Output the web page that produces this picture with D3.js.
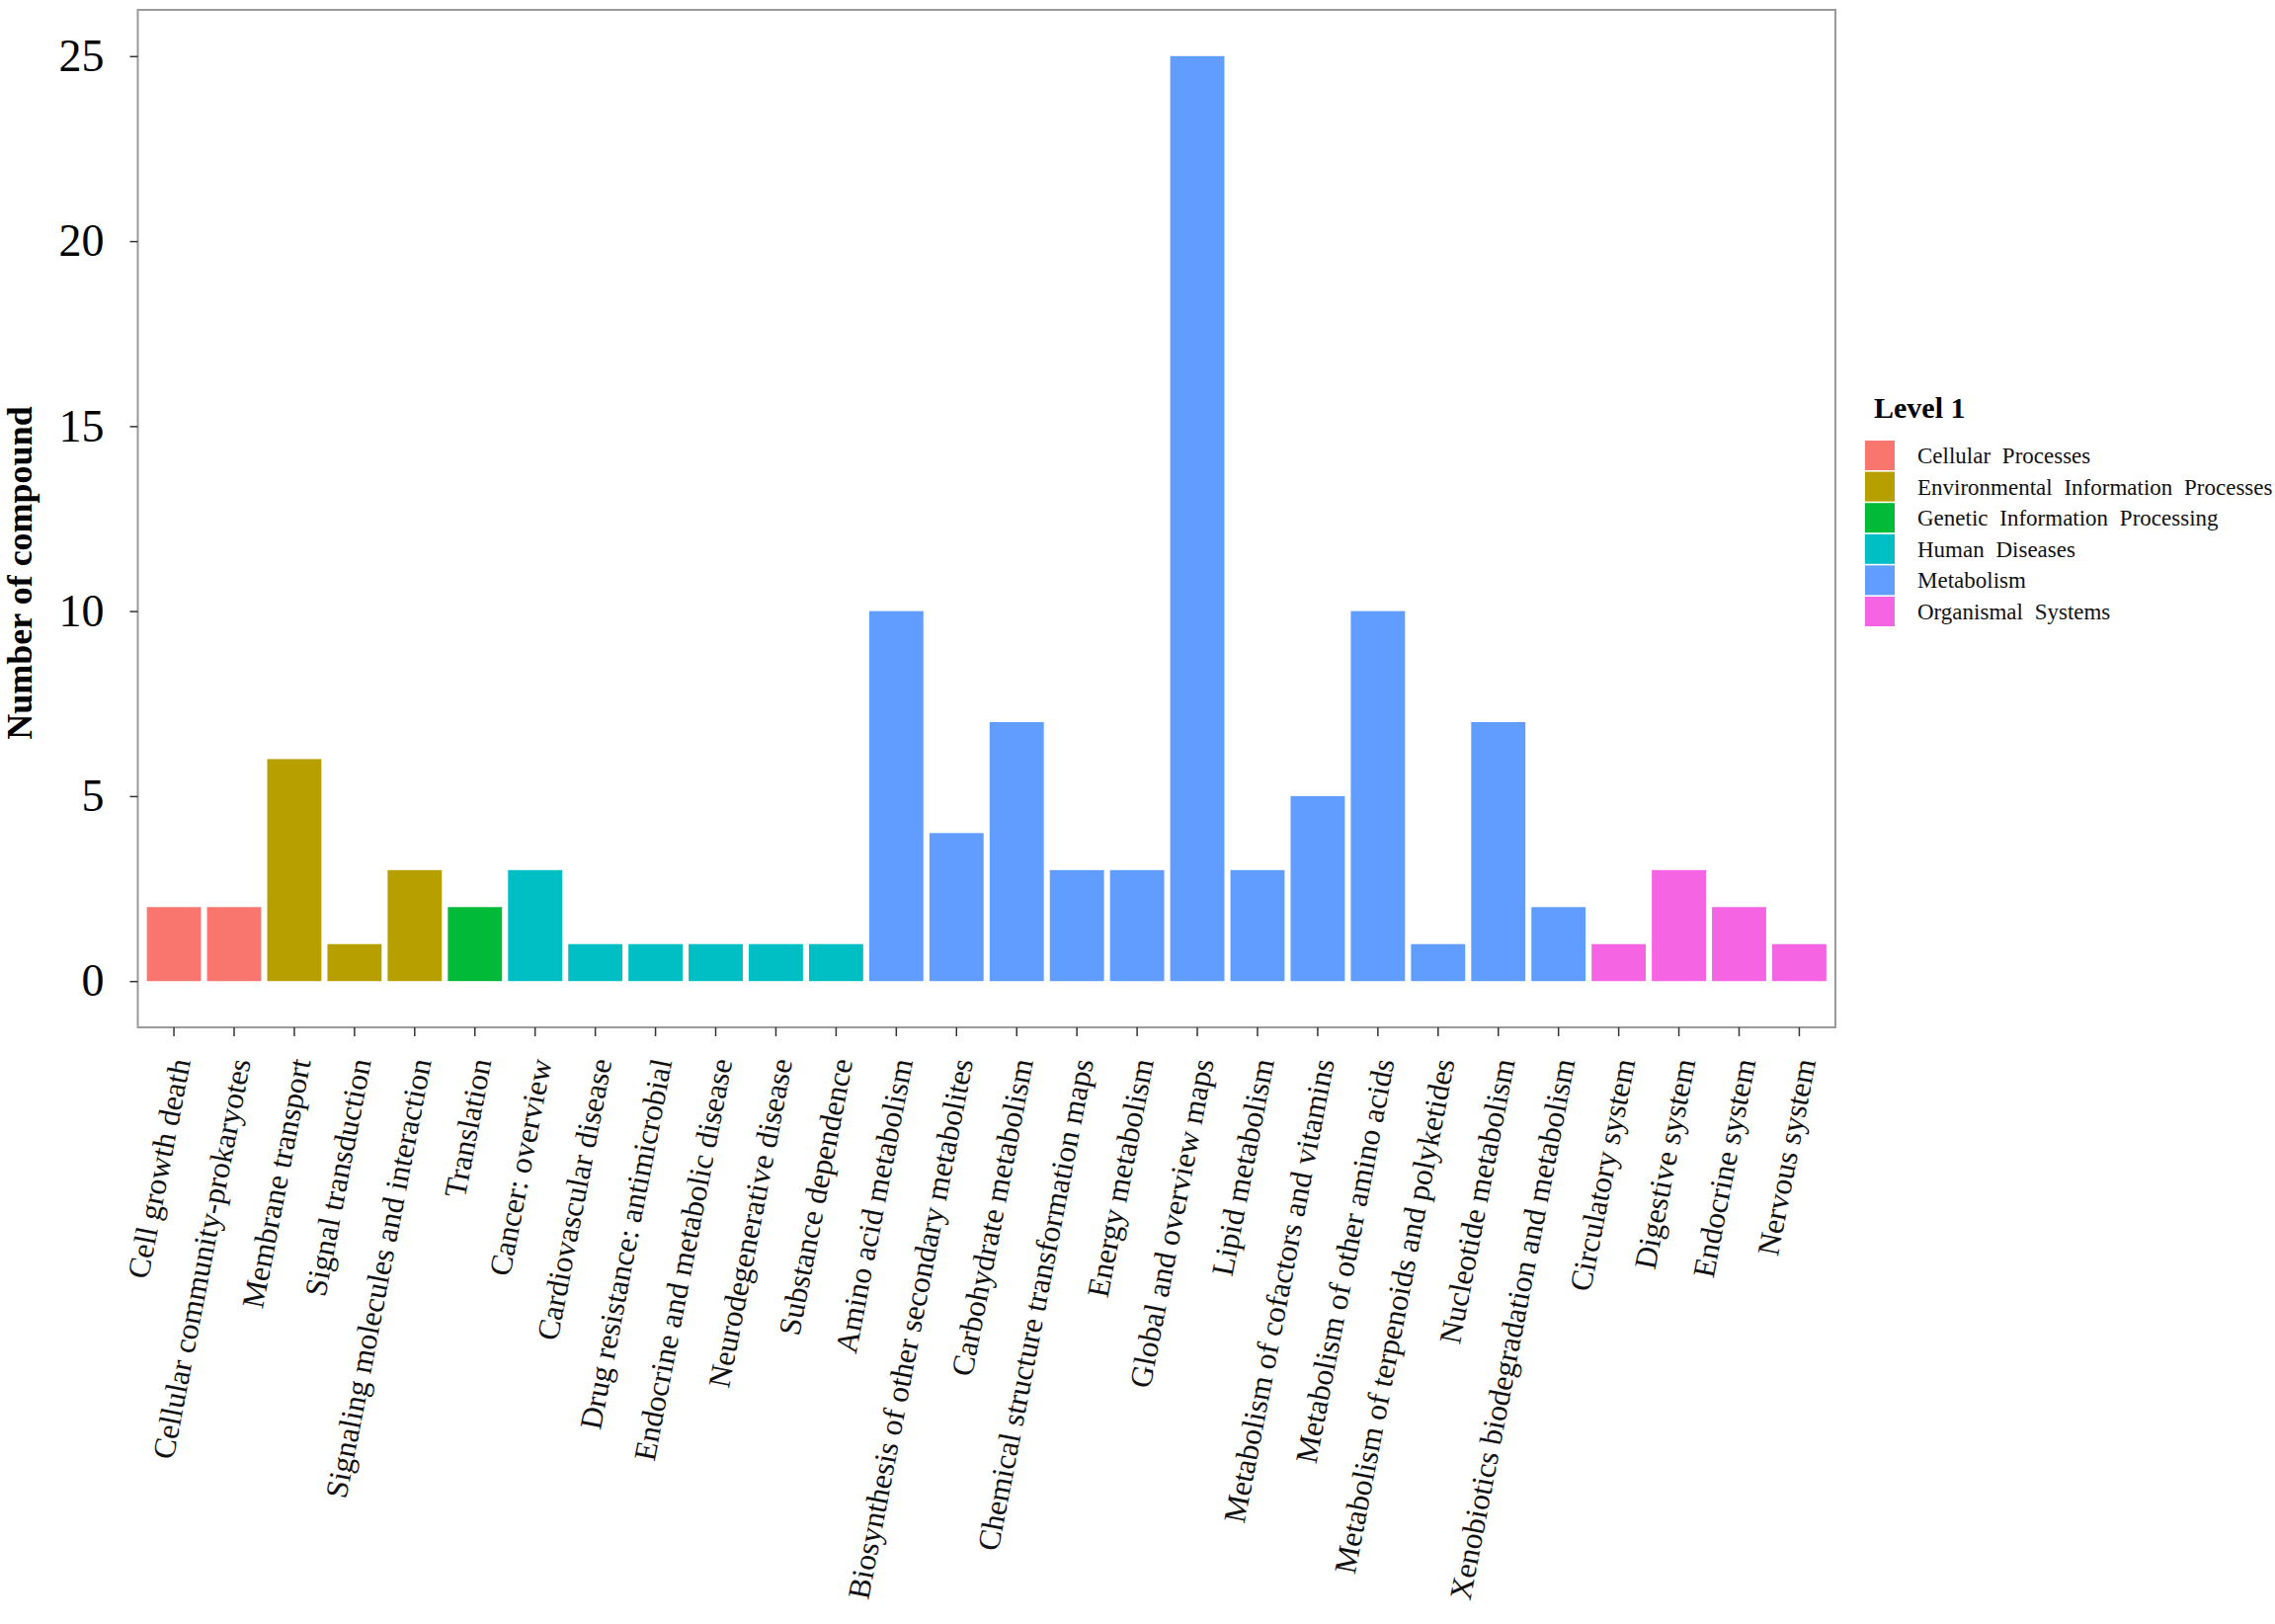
<!DOCTYPE html>
<html>
<head>
<meta charset="utf-8">
<script src="https://cdn.jsdelivr.net/npm/d3@7"></script>
<style>
  body { margin: 0; background: #fff; }
  text { font-family: "Liberation Serif", "Times New Roman", serif; }
</style>
</head>
<body>
<script>
var categories = [
  "Cell growth death", "Cellular community-prokaryotes",
  "Membrane transport", "Signal transduction", "Signaling molecules and interaction",
  "Translation",
  "Cancer: overview", "Cardiovascular disease", "Drug resistance: antimicrobial",
  "Endocrine and metabolic disease", "Neurodegenerative disease", "Substance dependence",
  "Amino acid metabolism", "Biosynthesis of other secondary metabolites",
  "Carbohydrate metabolism", "Chemical structure transformation maps",
  "Energy metabolism", "Global and overview maps", "Lipid metabolism",
  "Metabolism of cofactors and vitamins", "Metabolism of other amino acids",
  "Metabolism of terpenoids and polyketides", "Nucleotide metabolism",
  "Xenobiotics biodegradation and metabolism",
  "Circulatory system", "Digestive system", "Endocrine system", "Nervous system"
];
var counts = [2, 2, 6, 1, 3, 2, 3, 1, 1, 1, 1, 1, 10, 4, 7, 3, 3, 25, 3, 5, 10, 1, 7, 2, 1, 3, 2, 1];
var levels = [
  "Cellular Processes", "Cellular Processes",
  "Environmental Information Processes", "Environmental Information Processes", "Environmental Information Processes",
  "Genetic Information Processing",
  "Human Diseases", "Human Diseases", "Human Diseases", "Human Diseases", "Human Diseases", "Human Diseases",
  "Metabolism", "Metabolism", "Metabolism", "Metabolism", "Metabolism", "Metabolism",
  "Metabolism", "Metabolism", "Metabolism", "Metabolism", "Metabolism", "Metabolism",
  "Organismal Systems", "Organismal Systems", "Organismal Systems", "Organismal Systems"
];
var levelNames = ["Cellular Processes", "Environmental Information Processes", "Genetic Information Processing",
  "Human Diseases", "Metabolism", "Organismal Systems"];
var levelColors = ["#F8766D", "#B79F00", "#00BA38", "#00BFC4", "#619CFF", "#F564E3"];
var yTicks = [0, 5, 10, 15, 20, 25];

var width = 2303, height = 1644;
var panel = { left: 139.5, right: 1858, top: 10, bottom: 1040 };

var svg = d3.select("body").append("svg").attr("width", width).attr("height", height);

var data = categories.map(function(c, i){ return { name: c, value: counts[i], level: levels[i] }; });

var x = d3.scaleBand().domain(categories).range([panel.left, panel.right])
    .paddingInner(0.1).paddingOuter(0.15);
var y = d3.scaleLinear().domain([-1.25, 26.25]).range([panel.bottom, panel.top]);
var color = d3.scaleOrdinal().domain(levelNames).range(levelColors);

// bars
svg.append("g").attr("class", "bars")
    .selectAll("rect")
    .data(data)
    .enter().append("rect")
        .attr("x", function(d){ return x(d.name); })
        .attr("width", x.bandwidth())
        .attr("y", function(d){ return y(d.value); })
        .attr("height", function(d){ return y(0) - y(d.value); })
        .attr("fill", function(d){ return color(d.level); });

// panel border
svg.append("rect")
    .attr("x", panel.left).attr("y", panel.top)
    .attr("width", panel.right - panel.left).attr("height", panel.bottom - panel.top)
    .attr("fill", "none").attr("stroke", "#9a9a9a").attr("stroke-width", 2);

// y axis
var yAxis = svg.append("g").attr("transform", "translate(" + panel.left + ",0)")
    .call(d3.axisLeft(y).tickValues(yTicks).tickSize(8).tickPadding(26));
yAxis.select(".domain").remove();
yAxis.selectAll(".tick line").attr("stroke", "#333").attr("stroke-width", 1.5);
yAxis.selectAll(".tick text")
    .attr("fill", "#000")
    .style("font-family", "'Liberation Serif', serif")
    .style("font-size", "46px");

// x axis
var xAxis = svg.append("g").attr("transform", "translate(0," + panel.bottom + ")")
    .call(d3.axisBottom(x).tickSize(9).tickFormat(""));
xAxis.select(".domain").remove();
xAxis.selectAll(".tick line").attr("stroke", "#333").attr("stroke-width", 1.5);

svg.append("g").attr("class", "xlabels")
    .selectAll("text")
    .data(categories)
    .enter().append("text")
        .attr("transform", function(d){
            return "translate(" + (x(d) + x.bandwidth() / 2 + 6) + "," + (panel.bottom + 32) + ") rotate(-79)";
        })
        .attr("text-anchor", "end")
        .attr("dy", "0.35em")
        .style("font-size", "31.5px")
        .attr("fill", "#111")
        .text(function(d){ return d; });

// y title
svg.append("text")
    .attr("transform", "translate(32," + ((panel.top + panel.bottom) / 2 + 55) + ") rotate(-90)")
    .attr("text-anchor", "middle")
    .style("font-size", "36px")
    .style("font-weight", "bold")
    .text("Number of compound");

// legend
var legend = svg.append("g").attr("transform", "translate(1888,446)");
legend.append("text")
    .attr("x", 9).attr("y", -23)
    .style("font-size", "30px").style("font-weight", "bold")
    .text("Level 1");
var items = legend.selectAll("g.item")
    .data(levelNames)
    .enter().append("g").attr("class", "item")
        .attr("transform", function(d, i){ return "translate(0," + (i * 31.6) + ")"; });
items.append("rect")
    .attr("width", 30).attr("height", 30)
    .attr("fill", function(d){ return color(d); });
items.append("text")
    .attr("x", 53).attr("y", 15).attr("dy", "0.35em")
    .style("font-size", "23px").style("word-spacing", "6px")
    .attr("fill", "#111")
    .text(function(d){ return d; });
</script>
</body>
</html>
